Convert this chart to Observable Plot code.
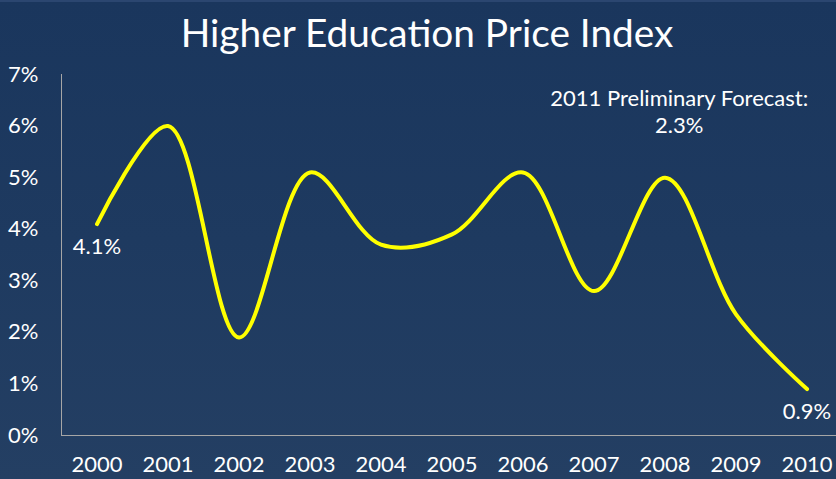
<!DOCTYPE html>
<html>
<head>
<meta charset="utf-8">
<script src="https://cdn.jsdelivr.net/npm/d3@7"></script>
<script src="https://cdn.jsdelivr.net/npm/@observablehq/plot@0.6"></script>
<style>
  html, body { margin: 0; padding: 0; }
  body {
    width: 836px; height: 479px; overflow: hidden;
    background: linear-gradient(to bottom, #1a365d 0%, #1e3a60 50%, #243f63 100%);
    font-family: Lato, "Open Sans", sans-serif;
    color: #fff;
  }
  #title {
    height: 60px; line-height: 60px; text-align: center;
    font-size: 38.8px; font-weight: 400; color: #fff;
    padding-left: 18px;
    border-top: 2px solid #2b4670; box-sizing: border-box;
  }
  #chart svg { display: block; overflow: visible; }
</style>
</head>
<body>
<div id="title">Higher Education Price Index</div>
<div id="chart"></div>
<script>
const years = [2000, 2001, 2002, 2003, 2004, 2005, 2006, 2007, 2008, 2009, 2010];
const hepi = [4.1, 6.0, 1.9, 5.1, 3.7, 3.9, 5.1, 2.8, 5.0, 2.35, 0.9];
const yTicks = [0, 1, 2, 3, 4, 5, 6, 7];
const endLabels = [
  {year: 2000, value: 4.1, text: "4.1%"},
  {year: 2010, value: 0.9, text: "0.9%"}
];
const forecastLines = ["2011 Preliminary Forecast:", "2.3%"];
const forecastAnchor = {year: 2008.2, value: 6.3};

const data = years.map((y, i) => ({year: y, value: hepi[i]}));

const chart = Plot.plot({
  width: 836,
  height: 419,
  marginTop: 14,
  marginBottom: 44,
  marginLeft: 61,
  marginRight: 0,
  style: {background: "transparent", color: "#fff", fontFamily: "Lato, 'Open Sans', sans-serif", overflow: "visible"},
  x: {domain: [1999.5, 2010.415], ticks: years, tickFormat: d => String(d), tickSize: 0, tickPadding: 21, label: null},
  y: {domain: [0, 7], ticks: yTicks, tickFormat: d => d + "%", tickSize: 0, tickPadding: 23, label: null},
  marks: [
    Plot.ruleX([1999.5], {stroke: "#a6a6a6", strokeWidth: 1}),
    Plot.ruleY([0], {stroke: "#a6a6a6", strokeWidth: 1}),
    Plot.axisX({ticks: years, tickFormat: d => String(d), tickSize: 0, tickPadding: 21, fontSize: 22, fill: "#fff", label: null}),
    Plot.axisY({ticks: yTicks, tickFormat: d => d + "%", tickSize: 0, tickPadding: 23, fontSize: 22, fill: "#fff", label: null}),
    Plot.line(data, {x: "year", y: "value", stroke: "#ffff00", strokeWidth: 4, curve: "catmull-rom"}),
    Plot.text(endLabels, {x: "year", y: "value", text: "text", fill: "#fff", fontSize: 22, dy: 23, textAnchor: "middle"}),
    Plot.text([forecastAnchor], {x: "year", y: "value", text: () => forecastLines.join("\n"), fill: "#fff", fontSize: 22, lineHeight: 1.25, textAnchor: "middle"})
  ]
});
document.getElementById("chart").appendChild(chart);
</script>
</body>
</html>
